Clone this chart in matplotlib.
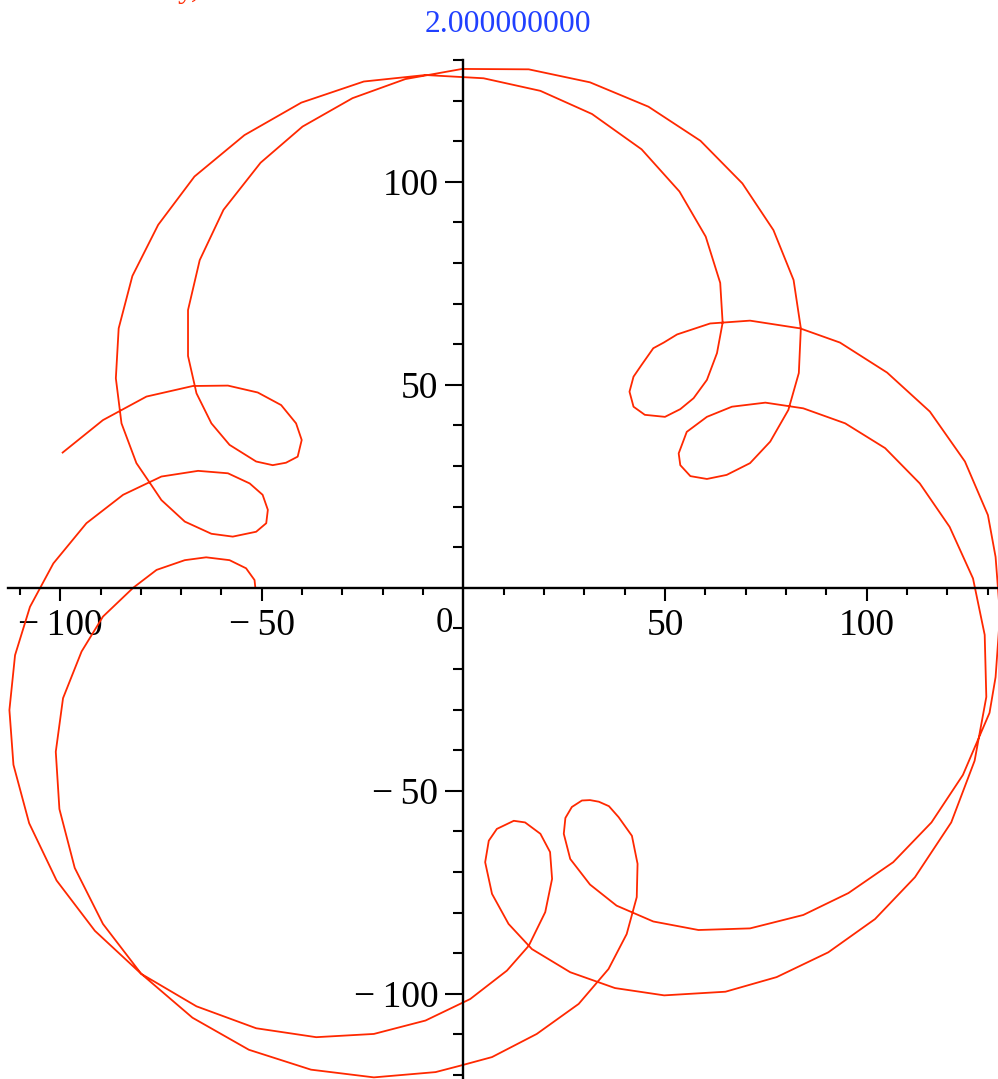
import matplotlib
matplotlib.use("Agg")
import matplotlib.pyplot as plt
from matplotlib.ticker import FixedLocator

# curve vertices (x, y), in drawing order from the start point to the hook near (-52, 0)
curve_x = [
    -99.4, -89.4, -78.6, -67.1, -58.4, -51.0, -45.2, -41.5, -40.1, -41.1,
    -44.0, -47.3, -51.4, -58.0, -62.5, -66.2, -68.3, -68.3, -65.4, -59.5,
    -50.3, -39.9, -27.5, -14.4, -0.3, 16.2, 31.4, 45.9, 58.8, 69.2,
    76.9, 81.9, 83.7, 83.2, 80.6, 76.1, 71.1, 65.3, 60.4, 56.3,
    53.8, 53.4, 55.4, 60.4, 66.6, 74.9, 84.3, 94.7, 104.6, 113.2,
    120.6, 126.4, 129.3, 129.7, 126.8, 121.0, 112.0, 102.1, 90.5, 77.7,
    65.0, 49.8, 37.6, 26.5, 17.0, 11.2, 7.1, 5.4, 6.3, 8.3,
    12.5, 15.3, 19.1, 21.5, 22.0, 20.3, 16.2, 10.8, 1.7, -9.4,
    -22.2, -36.5, -51.4, -66.2, -79.9, -91.4, -100.9, -107.7, -111.6, -112.6,
    -111.2, -107.5, -101.7, -93.5, -84.4, -74.9, -65.8, -58.4, -53.0, -49.8,
    -48.5, -48.9, -51.4, -57.2, -62.5, -69.1, -74.9, -77.4, -81.1, -84.8,
    -86.2, -85.5, -82.1, -75.7, -66.7, -54.3, -40.2, -24.7, -9.4, 5.0,
    19.1, 31.9, 44.2, 53.6, 60.1, 63.7, 64.3, 62.9, 60.4, 57.1,
    53.8, 50.0, 45.0, 42.2, 41.2, 42.2, 44.2, 47.1, 49.7, 53.0,
    61.2, 71.1, 83.5, 93.4, 105.1, 115.7, 124.4, 130.1, 132.0, 133.1,
    132.0, 130.5, 123.9, 116.1, 106.6, 95.5, 84.3, 71.1, 58.3, 47.1,
    38.0, 31.4, 26.5, 24.9, 25.3, 26.9, 29.4, 31.4, 33.6, 36.1,
    38.5, 41.8, 43.2, 43.0, 40.5, 36.0, 28.6, 18.2, 7.1, -0.7,
    -6.9, -22.2, -37.8, -53.2, -67.2, -79.9, -89.4, -96.4, -100.2, -101.1,
    -99.3, -94.7, -89.4, -81.9, -76.1, -69.1, -63.8, -58.0, -53.9, -51.8,
    -51.6,
]
curve_y = [
    33.3, 41.3, 47.1, 49.7, 49.8, 48.1, 45.0, 40.5, 36.4, 32.3,
    30.8, 30.2, 31.1, 35.2, 40.5, 47.9, 57.1, 68.4, 80.7, 93.1,
    104.7, 113.6, 120.6, 125.3, 127.8, 127.7, 124.5, 118.5, 110.1, 99.6,
    88.1, 75.8, 63.9, 52.9, 43.8, 36.0, 30.7, 27.8, 26.8, 27.5,
    30.2, 33.1, 38.4, 42.1, 44.6, 45.6, 44.2, 40.5, 34.4, 25.7,
    15.0, 2.3, -11.6, -26.9, -42.6, -57.8, -71.3, -81.6, -89.8, -95.9,
    -99.5, -100.4, -98.6, -94.7, -89.0, -82.8, -75.4, -67.6, -62.3, -59.4,
    -57.4, -57.8, -60.6, -65.1, -71.7, -79.9, -88.2, -94.3, -101.3, -106.6,
    -109.9, -110.7, -108.5, -103.1, -95.1, -84.5, -72.1, -58.0, -43.6, -30.1,
    -16.6, -4.7, 6.0, 15.9, 22.9, 27.4, 28.8, 28.2, 25.7, 22.9,
    19.2, 15.9, 13.8, 12.6, 13.3, 16.3, 21.6, 25.3, 30.7, 40.5,
    51.6, 63.9, 76.8, 89.4, 101.3, 111.5, 119.5, 124.7, 126.3, 125.5,
    122.4, 116.7, 108.0, 97.6, 86.5, 75.1, 65.3, 57.8, 51.2, 46.7,
    44.0, 42.1, 42.6, 44.6, 48.3, 52.0, 54.9, 59.0, 60.4, 62.4,
    65.1, 65.8, 63.9, 60.4, 53.0, 43.4, 31.1, 17.9, 7.6, -6.7,
    -22.0, -30.8, -46.1, -57.8, -67.6, -75.2, -80.6, -83.9, -84.3, -82.2,
    -78.3, -73.1, -66.8, -60.6, -56.7, -54.0, -52.4, -52.3, -52.7, -53.8,
    -56.5, -61.1, -68.0, -76.2, -85.3, -93.9, -102.5, -109.9, -115.6, -117.7,
    -119.3, -120.6, -118.7, -113.8, -105.9, -95.1, -82.8, -69.0, -54.5, -40.4,
    -27.2, -15.7, -7.1, 0.0, 4.4, 6.8, 7.5, 6.8, 4.8, 1.9,
    0.0,
]

major_ticks = [-100, -50, 50, 100]
major_labels = ["\u2212\u2009100", "\u2212\u200950", "50", "100"]
x_minor = [v for v in range(-110, 140, 10) if v not in major_ticks and v != 0]
y_minor = [v for v in range(-120, 140, 10) if v not in major_ticks and v != 0]
title_text = "2.000000000"

plt.rcParams["font.family"] = ["Liberation Serif", "DejaVu Serif"]

fig = plt.figure(figsize=(9.98, 10.79), dpi=100)
ax = fig.add_axes([8.2 / 998, 0.0, 989.8 / 998, 1019 / 1079])

ax.plot(curve_x, curve_y, color="#ff2800", lw=1.3)

ax.set_xlim(-112.9, 132.6)
ax.set_ylim(-121.0, 130.0)

# axes through the origin, maple style
for side in ["top", "right"]:
    ax.spines[side].set_visible(False)
ax.spines["left"].set_position(("data", 0))
ax.spines["bottom"].set_position(("data", 0))
for side in ["left", "bottom"]:
    ax.spines[side].set_linewidth(1.7)

ax.set_xticks(major_ticks)
ax.set_xticklabels(major_labels)
ax.set_yticks(major_ticks)
ax.set_yticklabels(major_labels)
ax.xaxis.set_minor_locator(FixedLocator(x_minor))
ax.yaxis.set_minor_locator(FixedLocator(y_minor))

ax.tick_params(axis="x", which="major", direction="out", length=9, width=1.5,
               pad=6, labelsize=27)
ax.tick_params(axis="x", which="minor", direction="out", length=5, width=1.5)
ax.tick_params(axis="y", which="major", direction="out", length=13, width=1.5,
               pad=5, labelsize=27)
ax.tick_params(axis="y", which="minor", direction="out", length=7.5, width=1.5)

ax.text(-4.65, -10.9, "0", fontsize=25, ha="center", va="baseline")

fig.text(508 / 998, 1 - 32 / 1079, title_text, color="#2040ff", fontsize=22.8,
         ha="center", va="baseline")
# red caption sitting above the frame, only its descenders show
fig.text(178 / 998, 1 + 3 / 1079, "y,", color="#ff2800", fontsize=22.8,
         ha="left", va="baseline")

fig.savefig("out.png", dpi=100)
